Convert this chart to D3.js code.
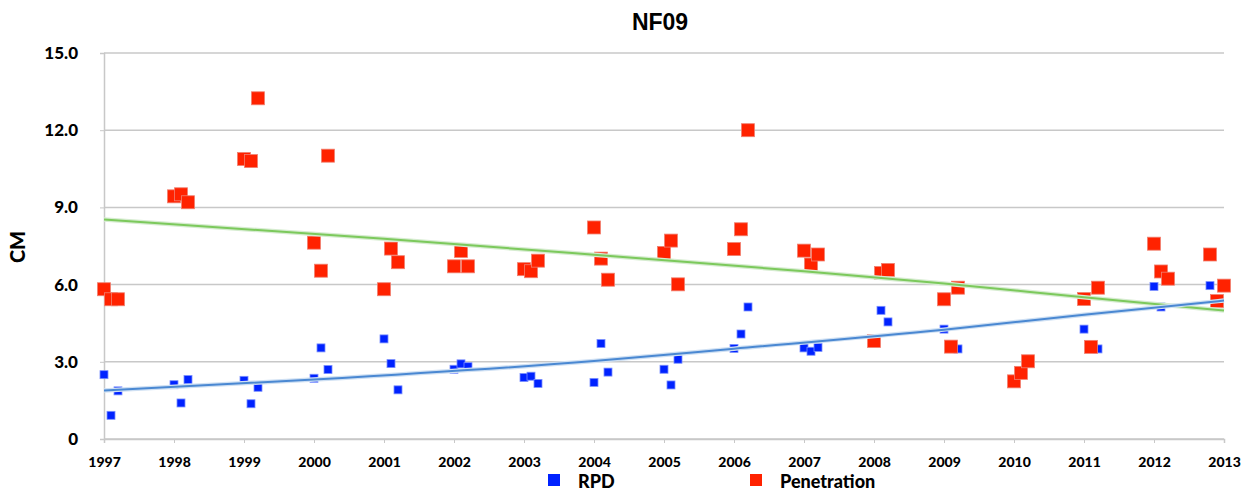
<!DOCTYPE html>
<html>
<head>
<meta charset="utf-8">
<script src="https://cdn.jsdelivr.net/npm/d3@7"></script>
<style>
  body { margin: 0; background: #fff; }
  text { font-family: Lato, "Liberation Sans", sans-serif; font-weight: 900; fill: #000; }
</style>
</head>
<body>
<svg width="1249" height="492"></svg>
<script>
// RPD readings (year, cm)
var rpdYears = [1997.0, 1997.1, 1997.2, 1998.0, 1998.1, 1998.2, 1999.0, 1999.1, 1999.2,
  2000.0, 2000.1, 2000.2, 2001.0, 2001.1, 2001.2, 2002.0, 2002.1, 2002.2,
  2003.0, 2003.1, 2003.2, 2004.0, 2004.1, 2004.2, 2005.0, 2005.1, 2005.2,
  2006.0, 2006.1, 2006.2, 2007.0, 2007.1, 2007.2, 2008.1, 2008.2,
  2009.0, 2009.2, 2011.0, 2011.2, 2012.0, 2012.1, 2012.8];
var rpdValues = [2.50, 0.92, 1.87, 2.11, 1.40, 2.31, 2.28, 1.37, 2.01,
  2.36, 3.54, 2.70, 3.89, 2.93, 1.91, 2.71, 2.92, 2.81,
  2.39, 2.44, 2.16, 2.20, 3.71, 2.60, 2.71, 2.10, 3.10,
  3.52, 4.08, 5.13, 3.54, 3.41, 3.56, 5.00, 4.55,
  4.27, 3.50, 4.27, 3.50, 5.93, 5.13, 5.96];

// Penetration readings (year, cm)
var penYears = [1997.0, 1997.1, 1997.2, 1998.0, 1998.1, 1998.2, 1999.0, 1999.1, 1999.2,
  2000.0, 2000.1, 2000.2, 2001.0, 2001.1, 2001.2, 2002.0, 2002.1, 2002.2,
  2003.0, 2003.1, 2003.2, 2004.0, 2004.1, 2004.2, 2005.0, 2005.1, 2005.2,
  2006.0, 2006.1, 2006.2, 2007.0, 2007.1, 2007.2, 2008.0, 2008.1, 2008.2,
  2009.0, 2009.1, 2009.2, 2010.0, 2010.1, 2010.2, 2011.0, 2011.1, 2011.2,
  2012.0, 2012.1, 2012.2, 2012.8, 2012.9, 2013.0];
var penValues = [5.82, 5.43, 5.43, 9.43, 9.51, 9.20, 10.88, 10.80, 13.24,
  7.63, 6.54, 11.01, 5.82, 7.40, 6.87, 6.71, 7.31, 6.71,
  6.60, 6.52, 6.93, 8.22, 7.01, 6.19, 7.23, 7.71, 6.01,
  7.38, 8.15, 12.00, 7.32, 6.78, 7.17, 3.81, 6.45, 6.57,
  5.43, 3.59, 5.88, 2.24, 2.57, 3.02, 5.44, 3.58, 5.88,
  7.59, 6.51, 6.23, 7.17, 5.36, 5.96];

// trend lines
var rpdTrendYears = [1997, 2000, 2004, 2006, 2009, 2011, 2013];
var rpdTrendValues = [1.88, 2.31, 3.03, 3.51, 4.25, 4.83, 5.38];
var penTrendYears = [1997, 2001, 2004, 2007, 2009, 2011, 2013];
var penTrendValues = [8.53, 7.78, 7.16, 6.52, 6.04, 5.51, 4.99];

var yTicks = [0, 3, 6, 9, 12, 15];
var xTicks = d3.range(1997, 2014);

var svg = d3.select("svg"),
    margin = {top: 53, right: 25, bottom: 53, left: 104},
    width = +svg.attr("width") - margin.left - margin.right,
    height = +svg.attr("height") - margin.top - margin.bottom,
    g = svg.append("g").attr("transform", "translate(" + margin.left + "," + margin.top + ")");

var x = d3.scaleLinear().domain([1997, 2013]).range([0, width]);
var y = d3.scaleLinear().domain([0, 15]).range([height, 0]);

// gridlines
g.append("g")
  .selectAll("line")
  .data(yTicks)
  .enter().append("line")
    .attr("x1", 0).attr("x2", width)
    .attr("y1", function(d) { return y(d); })
    .attr("y2", function(d) { return y(d); })
    .attr("stroke", "#c8c8c8")
    .attr("stroke-width", 1.5);

// y axis
var yAxis = g.append("g")
  .call(d3.axisLeft(y).tickValues(yTicks).tickSize(4).tickPadding(22)
    .tickFormat(function(d) { return d === 0 ? "0" : d3.format(".1f")(d); }));
yAxis.select(".domain").attr("stroke", "#c8c8c8").attr("stroke-width", 1.5);
yAxis.selectAll(".tick line").attr("stroke", "#c8c8c8");
yAxis.selectAll("text").style("font-size", "17px");

// x axis
var xAxis = g.append("g")
  .attr("transform", "translate(0," + height + ")")
  .call(d3.axisBottom(x).tickValues(xTicks).tickSize(4).tickPadding(14).tickFormat(d3.format("d")));
xAxis.select(".domain").attr("stroke", "#c8c8c8").attr("stroke-width", 1.5);
xAxis.selectAll(".tick line").attr("stroke", "#c8c8c8");
xAxis.selectAll("text").style("font-size", "14px");

// markers
var rpd = rpdYears.map(function(d, i) { return [d, rpdValues[i]]; });
var pen = penYears.map(function(d, i) { return [d, penValues[i]]; });

g.append("g").selectAll("rect")
  .data(rpd)
  .enter().append("rect")
    .attr("x", function(d) { return x(d[0]) - 4; })
    .attr("y", function(d) { return y(d[1]) - 4; })
    .attr("width", 8).attr("height", 8)
    .attr("fill", "#0022ff")
    .attr("stroke", "#7a90ff")
    .attr("stroke-width", 0.8);

g.append("g").selectAll("rect")
  .data(pen)
  .enter().append("rect")
    .attr("x", function(d) { return x(d[0]) - 6.5; })
    .attr("y", function(d) { return y(d[1]) - 6.5; })
    .attr("width", 13).attr("height", 13)
    .attr("fill", "#ff2200")
    .attr("stroke", "#f08070")
    .attr("stroke-width", 0.8);

// trend lines
var line = d3.line()
  .x(function(d) { return x(d[0]); })
  .y(function(d) { return y(d[1]); })
  .curve(d3.curveMonotoneX);

var penTrend = penTrendYears.map(function(d, i) { return [d, penTrendValues[i]]; });
var rpdTrend = rpdTrendYears.map(function(d, i) { return [d, rpdTrendValues[i]]; });

g.append("path").datum(penTrend)
  .attr("d", line).attr("fill", "none")
  .attr("stroke", "#d6ecd0").attr("stroke-width", 4.5);
g.append("path").datum(penTrend)
  .attr("d", line).attr("fill", "none")
  .attr("stroke", "#7cc95c").attr("stroke-width", 2);
g.append("path").datum(rpdTrend)
  .attr("d", line).attr("fill", "none")
  .attr("stroke", "#cfe0f3").attr("stroke-width", 4.5);
g.append("path").datum(rpdTrend)
  .attr("d", line).attr("fill", "none")
  .attr("stroke", "#4a88d2").attr("stroke-width", 2);

// title
svg.append("text")
  .attr("x", 660).attr("y", 30)
  .attr("text-anchor", "middle")
  .style("font-size", "23px")
  .style("font-weight", "bold")
  .style("font-family", "'Liberation Sans', Arial, sans-serif")
  .text("NF09");

// y label
svg.append("text")
  .attr("transform", "translate(25,247) rotate(-90)")
  .attr("text-anchor", "middle")
  .style("font-size", "20px")
  .text("CM");

// legend
var legend = svg.append("g");
var legendItems = [
  {name: "RPD", color: "#0022ff", x: 548},
  {name: "Penetration", color: "#ff2200", x: 750}
];
var li = legend.selectAll("g").data(legendItems).enter().append("g")
  .attr("transform", function(d) { return "translate(" + d.x + ",0)"; });
li.append("rect")
  .attr("x", 0).attr("y", 474).attr("width", 12).attr("height", 12)
  .attr("fill", function(d) { return d.color; });
li.append("text")
  .attr("x", 30).attr("y", 488)
  .style("font-size", "18px")
  .text(function(d) { return d.name; });
</script>
</body>
</html>
